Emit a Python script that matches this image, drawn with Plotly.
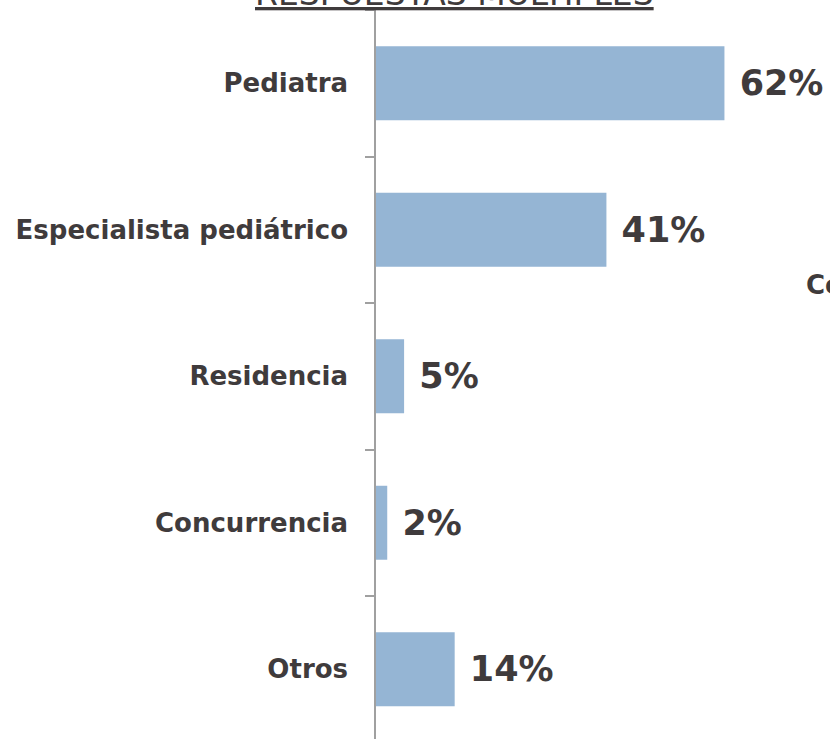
import plotly.graph_objects as go

categories = ["Pediatra", "Especialista pediátrico", "Residencia", "Concurrencia", "Otros"]
values = [62, 41, 5, 2, 14]
labels = [f"{v}%" for v in values]
title_text = "RESPUESTAS MÚLTIPLES"
side_text = "Co"

TEXT = "#3F3B3C"
BAR = "#95B5D4"

W, H = 830, 739
left, top = 376, 10
px_per_pct = 5.62
px_per_cat = 146.5
plot_h = H - top

fig = go.Figure(go.Bar(
    y=categories, x=values, orientation="h",
    marker=dict(color=BAR, line=dict(width=0)),
    text=labels, texttemplate="\u00a0%{text}", textposition="outside",
    textfont=dict(family="DejaVu Sans", size=35, color=TEXT, weight="bold"),
    cliponaxis=False, hoverinfo="skip",
))

fig.update_layout(
    width=W, height=H,
    margin=dict(l=left, r=0, t=top, b=0, pad=0),
    paper_bgcolor="white", plot_bgcolor="white",
    bargap=0.495,
    showlegend=False,
    xaxis=dict(range=[0, (W - left) / px_per_pct], visible=False),
    yaxis=dict(
        type="category",
        range=[-0.5 + plot_h / px_per_cat, -0.5],
        showline=True, linecolor="#A0A0A0", linewidth=1.5,
        ticks="outside", ticklen=9, tickcolor="#A0A0A0", tickwidth=1.5,
        tickson="boundaries",
        ticklabelstandoff=21,
        tickfont=dict(family="DejaVu Sans", size=26, color=TEXT, weight="bold"),
        showgrid=False, zeroline=False,
    ),
    annotations=[
        dict(text=title_text, xref="paper", yref="paper", x=(454 - left) / (W - left),
             y=1, xanchor="center", yanchor="bottom", showarrow=False,
             yshift=-5,
             font=dict(family="DejaVu Sans", size=33, color=TEXT, lineposition="under")),
        dict(text=side_text, xref="paper", yref="paper", x=(804 - left) / (W - left),
             y=1 - (285 - top) / plot_h, xanchor="left", yanchor="middle", showarrow=False,
             font=dict(family="DejaVu Sans", size=26, color=TEXT, weight="bold")),
    ],
)

# remove the default 8px page margin so the figure fills the window exactly
fig.write_html("out.html", config={"displayModeBar": False},
               post_script="document.body.style.margin='0';")
